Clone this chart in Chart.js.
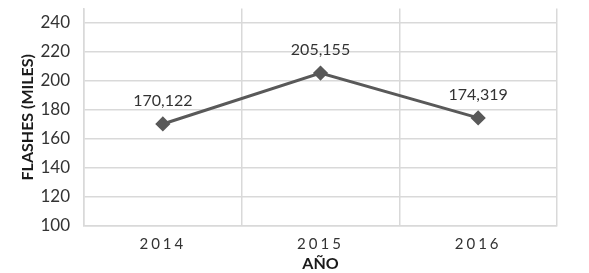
<!DOCTYPE html>
<html>
<head>
<meta charset="utf-8">
<script src="https://cdn.jsdelivr.net/npm/chart.js@4/dist/chart.umd.min.js"></script>
<style>
  html, body { margin: 0; padding: 0; background: #fff; }
  #wrap { width: 589px; height: 273px; }
</style>
</head>
<body>
<div id="wrap"><canvas id="chart" width="589" height="273"></canvas></div>
<script>
const years = ['2014', '2015', '2016'];
const flashes = [170.122, 205.155, 174.319];
const yTicks = [100, 120, 140, 160, 180, 200, 220, 240];

const FONT = 'Lato, "Open Sans", sans-serif';
const TEXT = '#333333';
const LINE = '#595959';
const GRID = '#d9d9d9';

// draws "170,122" style labels above each point
const valueLabels = {
    id: 'valueLabels',
    afterDatasetsDraw(chart) {
        const ctx = chart.ctx;
        const meta = chart.getDatasetMeta(0);
        ctx.save();
        ctx.font = '16px ' + FONT;
        ctx.fillStyle = TEXT;
        ctx.textAlign = 'center';
        ctx.textBaseline = 'middle';
        meta.data.forEach((pt, i) => {
            const txt = flashes[i].toFixed(3).replace('.', ',');
            ctx.fillText(txt, pt.x, pt.y - 23);
        });
        ctx.restore();
    }
};

// spaced-out year labels on the x axis
const spacedLabels = {
    id: 'spacedLabels',
    afterUpdate(chart) {
        const s = chart.scales.x;
        if (s._spaced) return;
        const orig = s.drawLabels.bind(s);
        s.drawLabels = function(area) {
            chart.ctx.save();
            chart.ctx.letterSpacing = '3px';
            orig(area);
            chart.ctx.restore();
        };
        s._spaced = true;
    }
};

new Chart(document.getElementById('chart'), {
    type: 'line',
    data: {
        labels: years,
        datasets: [{
            data: flashes,
            borderColor: LINE,
            backgroundColor: LINE,
            borderWidth: 3,
            pointStyle: 'rectRot',
            pointRadius: 5.5,
            pointBackgroundColor: LINE,
            pointBorderColor: LINE,
            tension: 0
        }]
    },
    options: {
        responsive: false,
        animation: false,
        events: [],
        layout: { padding: { top: 4, right: 32, left: 0, bottom: 0 } },
        plugins: { legend: { display: false }, tooltip: { enabled: false } },
        scales: {
            x: {
                offset: true,
                grid: { offset: true, color: GRID, lineWidth: 1.5, drawTicks: false },
                border: { color: GRID, width: 1.5 },
                ticks: { color: TEXT, font: { family: FONT, size: 15 }, padding: 9 },
                title: {
                    display: true, text: 'AÑO', color: '#1a1a1a',
                    font: { family: FONT, size: 16, weight: 'bold' }, padding: { top: -2, bottom: 0 }
                },
                afterFit(scale) { scale.height = 47; }
            },
            y: {
                min: 100,
                max: 249.5,
                afterBuildTicks(scale) { scale.ticks = yTicks.map(v => ({ value: v })); },
                grid: { color: GRID, lineWidth: 1.5, drawTicks: false },
                border: { color: GRID, width: 1.5 },
                ticks: { color: TEXT, font: { family: FONT, size: 17 }, padding: 14 },
                title: {
                    display: true, text: 'FLASHES (MILES)', color: '#1a1a1a',
                    font: { family: FONT, size: 16, weight: 'bold' }, padding: { top: 18, bottom: 2 }
                },
                afterFit(scale) {
                    scale.width = 84;
                    scale.paddingTop = 0;
                    scale.paddingBottom = 0;
                }
            }
        }
    },
    plugins: [valueLabels, spacedLabels]
});
</script>
</body>
</html>
